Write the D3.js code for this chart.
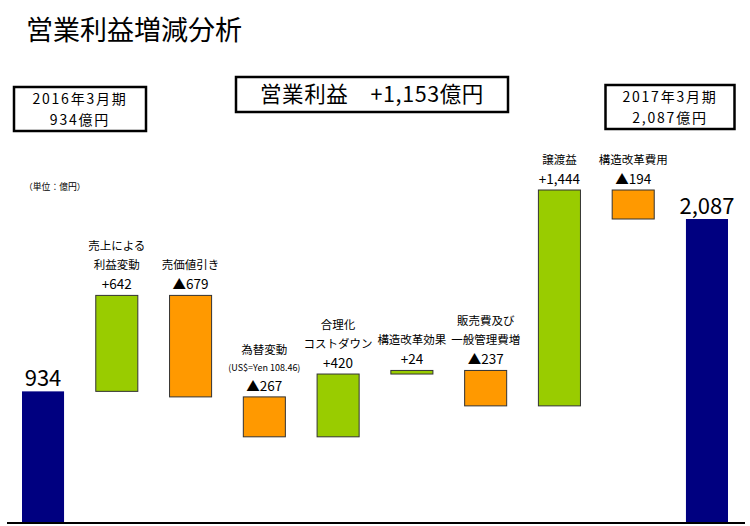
<!DOCTYPE html>
<html>
<head>
<meta charset="utf-8">
<script src="https://cdn.jsdelivr.net/npm/d3@7"></script>
<style>
  body { margin: 0; background: #fff; }
  svg { display: block; font-family: "Noto Sans CJK JP", "Noto Sans", sans-serif; }
</style>
</head>
<body>
<div id="chart"></div>
<script>
// 営業利益増減 (億円)
var categories = ["2016年3月期", "売上による利益変動", "売価値引き", "為替変動", "合理化コストダウン",
                  "構造改革効果", "販売費及び一般管理費増", "譲渡益", "構造改革費用", "2017年3月期"];
var labelLines = [[], ["売上による", "利益変動"], ["売価値引き"], ["為替変動", "(US$=Yen 108.46)"],
                  ["合理化", "コストダウン"], ["構造改革効果"], ["販売費及び", "一般管理費増"],
                  ["譲渡益"], ["構造改革費用"], []];
var values = [934, 642, -679, -267, 420, 24, -237, 1444, -194, 2087];
var kinds = ["total", "step", "step", "step", "step", "step", "step", "step", "step", "total"];

var W = 750, H = 526;
var baseY = 523;

var svg = d3.select("#chart").append("svg")
    .attr("width", W)
    .attr("height", H);

// waterfall rows
var data = [];
var run = 0;
values.forEach(function(v, i) {
  var d = {cat: categories[i], lines: labelLines[i], value: v, kind: kinds[i]};
  if (d.kind === "total") {
    d.y0 = 0; d.y1 = v; run = v;
  } else {
    d.y0 = run; d.y1 = run + v; run = d.y1;
  }
  data.push(d);
});

var x = d3.scaleBand()
    .domain(categories)
    .range([22, 728])
    .paddingInner(0.43)
    .paddingOuter(0);

var y = d3.scaleLinear()
    .domain([0, d3.max(data, function(d) { return Math.max(d.y0, d.y1); })])
    .range([531, 190]);

var color = function(d) {
  if (d.kind === "total") return "#000080";
  return d.value >= 0 ? "#99CC00" : "#FF9900";
};

var fmtNum = d3.format(",");
var valueText = function(d) {
  if (d.kind === "total") return fmtNum(d.value);
  return (d.value >= 0 ? "+" : "▲") + fmtNum(Math.abs(d.value));
};

// title
svg.append("text")
    .attr("x", 26)
    .attr("y", 40)
    .style("font-size", "27px")
    .text("営業利益増減分析");

// header boxes (multi-line text as one text element with tspans)
function box(cx, top, w, h, lines, size, spacing) {
  svg.append("rect")
      .attr("x", cx - w / 2).attr("y", top)
      .attr("width", w).attr("height", h)
      .attr("fill", "#fff").attr("stroke", "#000").attr("stroke-width", 2.5);
  var t = svg.append("text")
      .attr("x", cx)
      .attr("y", top + (lines.length === 1 ? h / 2 + size * 0.36 : 17))
      .attr("text-anchor", "middle")
      .style("font-size", size + "px")
      .style("letter-spacing", spacing + "px");
  lines.forEach(function(s, i) {
    t.append("tspan")
        .attr("x", cx)
        .attr("dy", i === 0 ? 0 : 21)
        .text(s);
  });
}
box(80, 87, 132, 44, ["2016年3月期", fmtNum(values[0]) + "億円"], 14, 1.8);
box(372, 77, 272, 35, ["営業利益　+" + fmtNum(values[values.length - 1] - values[0]) + "億円"], 21.5, 0.6);
box(670, 85, 129, 44, ["2017年3月期", fmtNum(values[values.length - 1]) + "億円"], 14, 1.8);

svg.append("text")
    .attr("x", 24)
    .attr("y", 190)
    .style("font-size", "8.8px")
    .text("（単位：億円）");

// bars
svg.selectAll("rect.bar")
    .data(data)
  .enter().append("rect")
    .attr("class", "bar")
    .attr("x", function(d) { return x(d.cat); })
    .attr("width", x.bandwidth())
    .attr("y", function(d) { return y(Math.max(d.y0, d.y1)); })
    .attr("height", function(d) {
      if (d.kind === "total") return baseY - y(d.y1);
      return Math.max(3, Math.abs(y(d.y0) - y(d.y1)));
    })
    .attr("fill", color)
    .attr("stroke", function(d) { return d.kind === "total" ? "none" : "#333"; })
    .attr("stroke-width", 1);

// labels above bars
data.forEach(function(d) {
  var cx = x(d.cat) + x.bandwidth() / 2;
  var top = y(Math.max(d.y0, d.y1));
  if (d.kind === "total") {
    svg.append("text")
        .attr("x", cx).attr("y", top - 5)
        .attr("text-anchor", "middle")
        .style("font-size", "22px")
        .text(valueText(d));
    return;
  }
  svg.append("text")
      .attr("x", cx).attr("y", top - 6)
      .attr("text-anchor", "middle")
      .style("font-size", "13.5px")
      .text(valueText(d));
  var ly = top - 26;
  d.lines.slice().reverse().forEach(function(t) {
    var small = t.indexOf("US$") >= 0;
    svg.append("text")
        .attr("x", cx).attr("y", ly)
        .attr("text-anchor", "middle")
        .style("font-size", small ? "9px" : "11.5px")
        .text(t);
    ly -= small ? 17 : 19;
  });
});

// baseline
svg.append("line")
    .attr("x1", 7).attr("x2", 745)
    .attr("y1", baseY).attr("y2", baseY)
    .attr("stroke", "#000").attr("stroke-width", 2);
</script>
</body>
</html>
